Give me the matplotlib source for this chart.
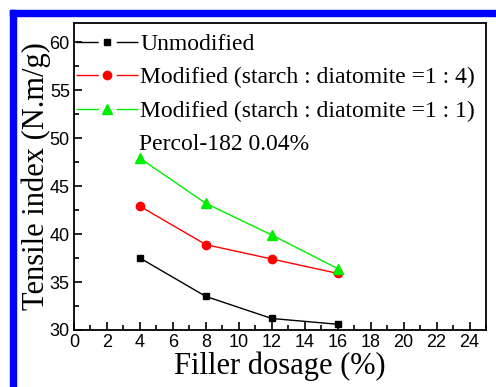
import matplotlib
matplotlib.use("Agg")
import matplotlib.pyplot as plt
from matplotlib.patches import Rectangle
from matplotlib.ticker import MultipleLocator

dosage = [4, 8, 12, 16]
unmodified = [37.5, 33.5, 31.2, 30.6]
modified_1_4 = [42.9, 38.9, 37.4, 35.9]
modified_1_1 = [47.9, 43.2, 39.9, 36.4]
series_labels = [
    "Unmodified",
    "Modified (starch : diatomite =1 : 4)",
    "Modified (starch : diatomite =1 : 1)",
]
note = "Percol-182 0.04%"

serif = "Liberation Serif"
sans = "Liberation Sans"

fig = plt.figure(figsize=(4.96, 3.87), dpi=100)
ax = fig.add_axes([74 / 496, 1 - 330 / 387, (486 - 74) / 496, (330 - 23) / 387])

styles = [
    dict(color="black", marker="s", markersize=5),
    dict(color="red", marker="o", markersize=6),
    dict(color="#00ee00", marker="^", markersize=7),
]
handles = []
for vals, lab, st in zip([unmodified, modified_1_4, modified_1_1], series_labels, styles):
    ax.plot(dosage, vals, color=st["color"], marker=st["marker"],
            markersize=st["markersize"], linewidth=1.0, zorder=3)
    h, = ax.plot([], [], color=st["color"], marker=st["marker"],
                 markersize=st["markersize"], linewidth=1.0,
                 linestyle=(0, (16, 13)))
    h.set_label(lab)
    handles.append(h)

ax.set_xlim(0, 25)
ax.set_ylim(30, 62)
ax.xaxis.set_major_locator(MultipleLocator(2))
ax.xaxis.set_minor_locator(MultipleLocator(1))
ax.yaxis.set_major_locator(MultipleLocator(5))
ax.yaxis.set_minor_locator(MultipleLocator(2.5))
ax.tick_params(which="both", direction="in", top=False, right=False, width=1.2)
ax.tick_params(which="major", length=6, labelsize=13, pad=3)
ax.tick_params(which="minor", length=3.5)
for t in ax.get_xticklabels() + ax.get_yticklabels():
    t.set_fontfamily(sans)
for s in ax.spines.values():
    s.set_linewidth(1.3)

ax.set_xlabel("Filler dosage (%)", fontfamily=serif, fontsize=22, labelpad=0)
ax.set_ylabel("Tensile index (N.m/g)", fontfamily=serif, fontsize=22, labelpad=-1)

fs = 17
leg = ax.legend(handles=handles, loc="upper left", frameon=False, numpoints=1,
                handlelength=45 / fs, handletextpad=0.1, borderaxespad=0.0,
                borderpad=0.45, labelspacing=0.5,
                prop={"family": serif, "size": fs})
# keep the legend handles flush with the left spine
leg.set_bbox_to_anchor((-0.022, 1.0), transform=ax.transAxes)

ax.text(0.157, 0.605, note, transform=ax.transAxes, fontfamily=serif,
        fontsize=fs, va="center", ha="left")

# blue frame along the top and left edges
fig.patches.append(Rectangle((10 / 496, 0), 6 / 496, 1 - 10 / 387,
                             transform=fig.transFigure, color="#0000ff"))
fig.patches.append(Rectangle((10 / 496, 1 - 16 / 387), 1, 6 / 387,
                             transform=fig.transFigure, color="#0000ff"))

fig.savefig("out.png", dpi=100)
